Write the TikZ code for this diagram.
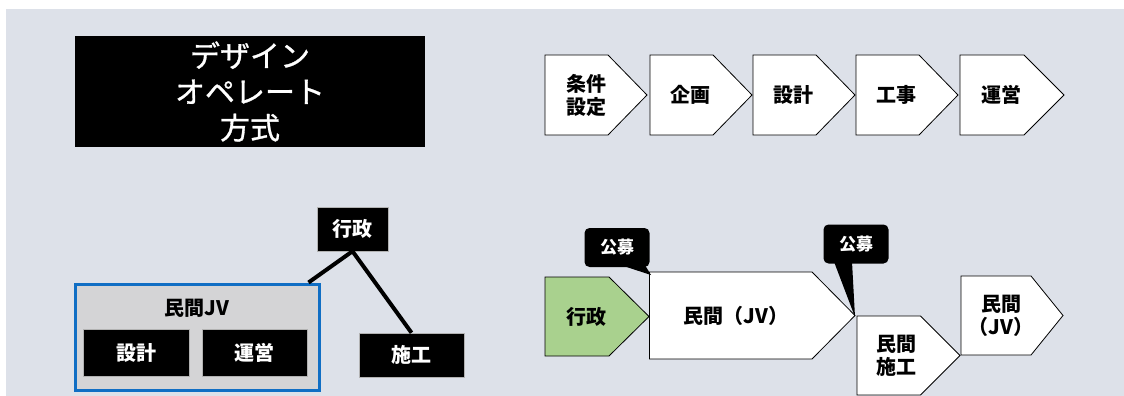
\documentclass[tikz,border=0pt]{standalone}
\usepackage{fontspec}
\setmainfont{Noto Sans CJK JP}
\newfontfamily\titlefont{Noto Sans CJK JP}[FakeBold=1]
\definecolor{bgc}{RGB}{221,225,233}
\definecolor{jvfill}{RGB}{212,212,214}
\definecolor{jvblue}{RGB}{16,110,196}
\definecolor{gfill}{RGB}{169,209,142}
\newcommand\chevshape[6]{%
  \draw[chev,#6] (#1,#2) -- ++(#3,0) -- ++(#4,#5/2) -- ++(-#4,#5/2) -- ++(-#3,0) -- cycle;}
\tikzset{
  chev/.style={draw=black,line width=0.8pt,fill=white,line join=miter},
  lbl/.style={font=\fontsize{20}{23}\selectfont\bfseries,align=center,inner sep=0pt},
  blackbox/.style={fill=black,draw=gray!60,line width=0.5pt,text=white,inner sep=0pt,
     font=\fontsize{20}{22}\selectfont\bfseries},
  callout/.style={fill=black,rounded corners=5pt,text=white,inner sep=0pt,
     minimum width=65pt,minimum height=39pt,font=\fontsize{17}{18}\selectfont\bfseries},
  conn/.style={line width=4pt,black},
}
\begin{document}
\begin{tikzpicture}[x=1pt,y=-1pt]
\useasboundingbox (0,0) rectangle (1124,396);
\fill[white] (0,0) rectangle (1124,396);
\fill[bgc] (6,9) rectangle (1124,396);

% title
\node[fill=black,minimum width=350pt,minimum height=111pt,inner sep=0pt,text=white,
  align=center,font=\fontsize{30}{36}\titlefont] (title) at (250,91.5)
  {デザイン\\オペレート\\方式};

% top process chevrons
\chevshape{545}{55}{63}{39}{80}{}
\node[lbl] (p1) at (586,95) {条件\\設定};
\chevshape{650}{55}{63}{39}{80}{}
\node[lbl] (p2) at (690,95) {企画};
\chevshape{753}{55}{63}{39}{80}{}
\node[lbl] (p3) at (793,95) {設計};
\chevshape{856}{55}{63}{39}{80}{}
\node[lbl] (p4) at (896,95) {工事};
\chevshape{960}{55}{64}{40}{80}{}
\node[lbl] (p5) at (1001,95) {運営};

% bottom left organisation
\node[blackbox,minimum width=71pt,minimum height=44pt] (gov) at (352.5,229) {行政};
\node[draw=jvblue,line width=3pt,fill=jvfill,minimum width=244pt,minimum height=106pt,inner sep=0pt] (jv) at (197,337) {};
\node[lbl] (jvlabel) at (197,308) {民間JV};
\node[blackbox,minimum width=106pt,minimum height=47pt] (des) at (136,352.5) {設計};
\node[blackbox,minimum width=105pt,minimum height=47pt] (ope) at (254.5,352.5) {運営};
\node[blackbox,minimum width=105pt,minimum height=44pt] (con) at (411.5,355) {施工};
\draw[conn] (gov.south) -- ([xshift=-12pt]jv.north east);
\draw[conn] (gov.south) -- (con.north);

% bottom right flow
\chevshape{545}{277}{64}{40}{79}{fill=gfill}
\node[lbl] (b1) at (586,317) {行政};
\chevshape{649.5}{272}{162.5}{43}{87}{}
\node[lbl] (b2) at (736,316) {民間（JV）};
\chevshape{857}{316}{63.5}{39.5}{79}{}
\node[lbl] (b3) at (896,356) {民間\\施工};
\chevshape{961}{276}{70}{32}{79}{}
\node[lbl] (b4) at (1001,316) {民間\\（JV）};

% callouts
\node[callout] (k1) at (617,247.5) {公募};
\coordinate (t1) at (651,275);
\fill[black] ([xshift=4pt,yshift=2pt]k1.south) -- (t1) -- ([xshift=28pt,yshift=2pt]k1.south) -- cycle;
\node[callout] (k2) at (856,244) {公募};
\coordinate (t2) at (855,317);
\fill[black] ([xshift=-22pt,yshift=2pt]k2.south) -- (t2) -- ([xshift=-4pt,yshift=2pt]k2.south) -- cycle;
\end{tikzpicture}
\end{document}
